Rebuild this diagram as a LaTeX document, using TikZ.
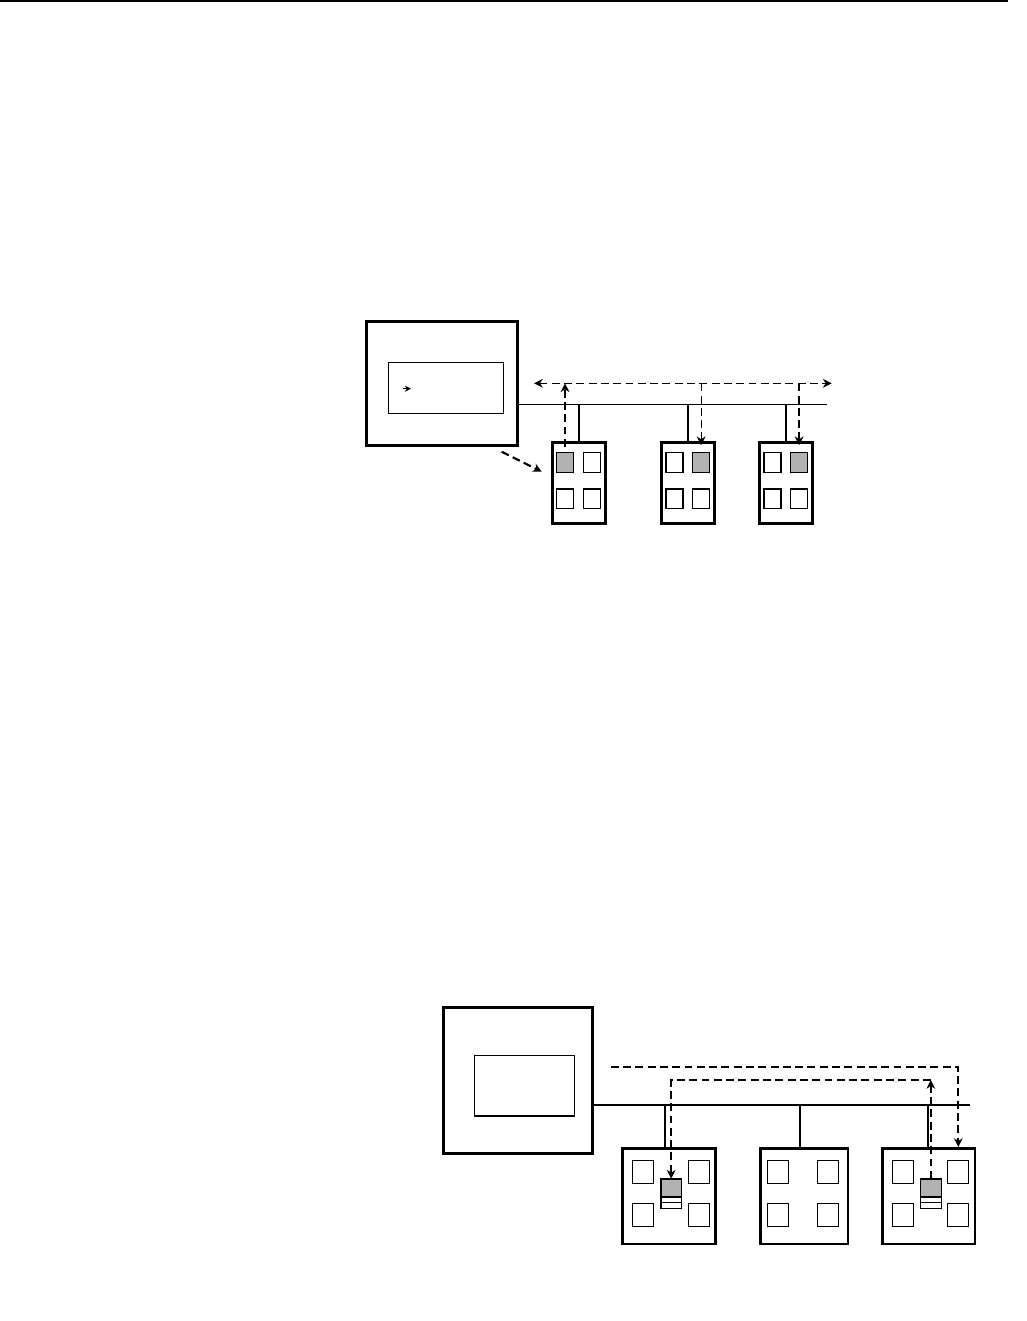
\documentclass[tikz,border=0pt]{standalone}
\usepackage{tikz}
\usetikzlibrary{arrows, arrows.meta, positioning}

\begin{document}
\begin{tikzpicture}[x=0.02cm, y=-0.02cm,
    >={Stealth[length=5pt, width=5pt, inset=1.6pt]},
    host/.style={rectangle, draw=black, line width=1.7pt, inner sep=0pt, outer sep=0pt},
    panel/.style={rectangle, draw=black, line width=0.75pt, inner sep=0pt, outer sep=0pt},
    module/.style={host},
    slot/.style={panel, fill=white},
    busy/.style={slot, fill=gray!60},
    cell/.style={panel, line width=0.9pt, minimum width=0.42cm, fill=white},
    wire/.style={draw=black, line width=0.7pt},
    msg/.style={dashed, dash pattern=on 4.5pt off 2.5pt, line width=1.2pt, ->}
]
\useasboundingbox (0,0) rectangle (1027,1321);
\draw[line width=0.85pt] (0,0.8) -- (1008,0.8);

% upper figure
\node[host, minimum width=3.02cm, minimum height=2.48cm] (hostA) at (442.2,383.7) {};
\node[panel, minimum width=2.3cm, minimum height=1.02cm] (panelA) at (446.2,388.3) {};
\coordinate (ptrA) at (402.7,388.7);
\coordinate (ptrAend) at (411,388.7);
\draw[-{Stealth[length=3.5pt, width=3.5pt]}, line width=0.9pt] (ptrA) -- (ptrAend);

\foreach \name/\x/\gl/\gr in {mA1/578.6/busy/slot, mA2/688/slot/busy, mA3/786/slot/busy} {
    \node[module, minimum width=1.06cm, minimum height=1.62cm] (\name) at (\x,482.8) {};
    \node[\gl, minimum width=0.34cm, minimum height=0.39cm] (\name-tl) at (\x-13.6,462.5) {};
    \node[\gr, minimum width=0.34cm, minimum height=0.39cm] (\name-tr) at (\x+13.1,462.5) {};
    \node[slot, minimum width=0.34cm, minimum height=0.39cm] (\name-bl) at (\x-13.6,498.7) {};
    \node[slot, minimum width=0.34cm, minimum height=0.39cm] (\name-br) at (\x+13.1,498.7) {};
}

\coordinate (busAw) at (519,404.3);
\coordinate (busAe) at (826.7,404.3);
\draw[wire] (busAw) -- (busAe);
\foreach \m/\lw in {mA1/1.1pt, mA2/1.1pt, mA3/0.7pt}
    \draw[wire, line width=\lw] (\m.north) -- (\m.north |- busAw);

\coordinate (bcastAw) at (534,383.3);
\coordinate (bcastAe) at (831.7,383.3);
\draw[msg, <->, line width=0.85pt] (bcastAw) -- (bcastAe);
\draw[msg] ([yshift=0.12cm]mA1-tl.north) -- (mA1-tl.north |- bcastAw);
\draw[msg, line width=0.65pt] (bcastAw -| mA2-tr) -- ([yshift=0.15cm]mA2-tr.north);
\draw[msg] (bcastAw -| mA3-tr) -- ([yshift=0.15cm]mA3-tr.north);

\coordinate (hintA) at (501.7,451.7);
\coordinate (hintAend) at (541.7,471.7);
\draw[msg] (hintA) -- (hintAend);

% lower figure
\node[host, minimum width=2.99cm, minimum height=2.91cm] (hostB) at (518,1080.5) {};
\node[panel, minimum width=2.01cm, minimum height=1.21cm] (panelB) at (524.5,1085.8) {};

\foreach \name/\x/\w/\l/\r/\s in {mB1/668.8/1.86/26/30/3.5, mB2/804/1.76/25.7/23.8/4, mB3/928.5/1.86/25.2/29.8/0.2} {
    \node[module, minimum width=\w cm, minimum height=1.92cm] (\name) at (\x,1196) {};
    \node[slot, minimum width=0.42cm, minimum height=0.47cm] (\name-tl) at (\x-\l,1172) {};
    \node[slot, minimum width=0.42cm, minimum height=0.47cm] (\name-tr) at (\x+\r,1172) {};
    \node[slot, minimum width=0.42cm, minimum height=0.47cm] (\name-bl) at (\x-\l,1215) {};
    \node[slot, minimum width=0.42cm, minimum height=0.47cm] (\name-br) at (\x+\r,1215) {};
    \coordinate (\name-tap) at (\x-\s,1148);
}

\coordinate (busBw) at (593,1104.7);
\coordinate (busBe) at (970,1104.7);
\draw[wire, line width=1.1pt] (busBw) -- (busBe);
\foreach \m in {mB1,mB2,mB3}
    \draw[wire, line width=1.1pt] (\m-tap) -- (\m-tap |- busBw);

\foreach \q/\x in {qB1/671.2, qB3/930.8} {
    \node[cell, fill=gray!60, minimum height=0.36cm] (\q) at (\x,1187.7) {};
    \node[cell, minimum height=0.115cm, below=0pt of \q] (\q a) {};
    \node[cell, minimum height=0.12cm, below=0pt of \q a] (\q b) {};
}

\coordinate (reqB) at (610.7,1067);
\draw[msg] (reqB) -| ([yshift=0.02cm]mB3-tr |- mB3.north);
\coordinate (turnB) at (930.8,1080);
\draw[msg] (qB3.north) -- (turnB);
\draw[msg] (turnB) -| (qB1.north);
\end{tikzpicture}
\end{document}
